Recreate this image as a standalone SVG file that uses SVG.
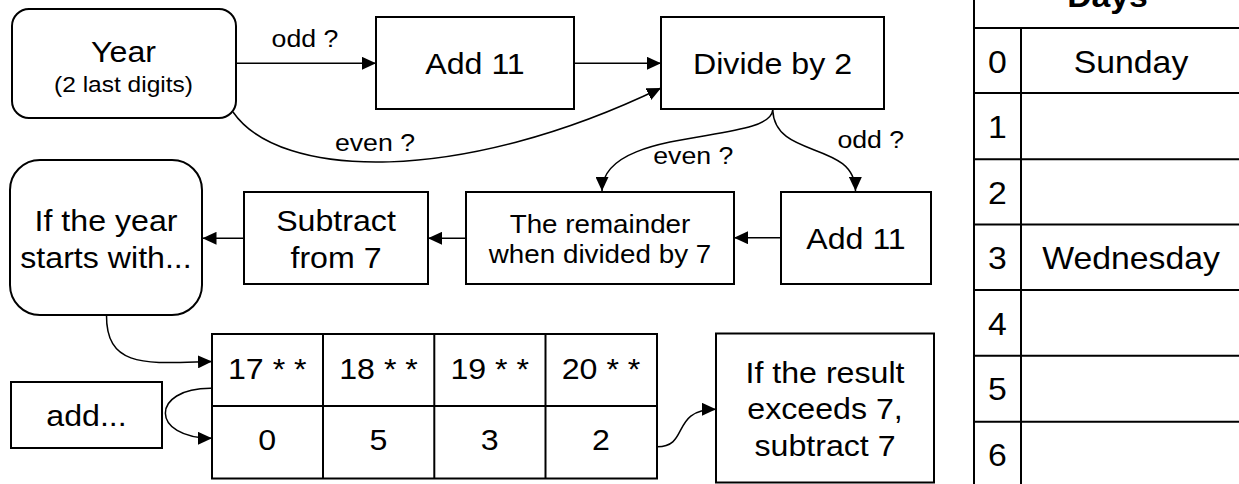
<svg xmlns="http://www.w3.org/2000/svg" width="1239" height="484" viewBox="0 0 1239 484">
<defs>
<style>
.box{fill:#fff;stroke:#000;stroke-width:2}
.edge{fill:none;stroke:#000;stroke-width:1.5}
.grid{fill:none;stroke:#000;stroke-width:2}
text{font-family:"Liberation Sans",Arial,sans-serif;fill:#000;text-anchor:middle}
.t{font-size:29.5px}
.s{font-size:22.5px}
.m{font-size:25.5px}
.l{font-size:24.5px}
.d{font-size:31px}
.b{font-size:31px;font-weight:bold}
</style>
<marker id="arr" markerUnits="userSpaceOnUse" markerWidth="14" markerHeight="13" refX="14" refY="6.5" orient="auto" viewBox="0 0 14 13">
<path d="M0,0 L14,6.5 L0,13 z" fill="#000"/>
</marker>
</defs>
<rect width="1239" height="484" fill="#fff"/>

<g id="connectors">
<path class="edge" marker-end="url(#arr)" d="M236,63.3 H376"/>
<path class="edge" marker-end="url(#arr)" d="M574,63.3 H661"/>
<path class="edge" marker-end="url(#arr)" d="M233,112 C280,180 460,185 661,88"/>
<path class="edge" marker-end="url(#arr)" d="M772.7,110 C770,145 602,125 602,191"/>
<path class="edge" marker-end="url(#arr)" d="M772.7,110 C775,160 855,140 855.5,191"/>
<path class="edge" marker-end="url(#arr)" d="M781,237.7 H734"/>
<path class="edge" marker-end="url(#arr)" d="M466,238.3 H428"/>
<path class="edge" marker-end="url(#arr)" d="M244,238.3 H202.5"/>
<path class="edge" marker-end="url(#arr)" d="M106.5,315 C106,370 150,363 212,361.5"/>
<path class="edge" marker-end="url(#arr)" d="M211,388.3 C150,388 150,438.3 212,438.3"/>
<path class="edge" marker-end="url(#arr)" d="M657,446.7 C690,447 670,409.3 716,409.3"/>
<text class="l" transform="matrix(1.09 0 0 1 305 47)">odd ?</text>
<text class="l" transform="matrix(1.09 0 0 1 375 150.5)">even ?</text>
<text class="l" transform="matrix(1.09 0 0 1 693.3 164.3)">even ?</text>
<text class="l" transform="matrix(1.09 0 0 1 870.8 148.3)">odd ?</text>
</g>

<g id="year">
<rect class="box" x="12" y="9" width="224" height="109" rx="17"/>
<text class="t" transform="matrix(1.09 0 0 1 123.5 61.7)">Year</text>
<text class="s" transform="matrix(1.09 0 0 1 123.5 91.7)">(2 last digits)</text>
</g>

<g id="add11-top">
<rect class="box" x="376" y="17" width="198" height="92"/>
<text class="t" transform="matrix(1.09 0 0 1 475 74)">Add 11</text>
</g>

<g id="divide">
<rect class="box" x="661" y="17" width="223" height="92"/>
<text class="t" transform="matrix(1.09 0 0 1 772.5 74.3)">Divide by 2</text>
</g>

<g id="add11-mid">
<rect class="box" x="781" y="192" width="150" height="92"/>
<text class="t" transform="matrix(1.09 0 0 1 856 249)">Add 11</text>
</g>

<g id="remainder">
<rect class="box" x="466" y="192" width="268" height="92"/>
<text class="m" transform="matrix(1.09 0 0 1 600 232.7)">The remainder</text>
<text class="m" transform="matrix(1.09 0 0 1 600 263.3)">when divided by 7</text>
</g>

<g id="subtract">
<rect class="box" x="244" y="192" width="184" height="92"/>
<text class="t" transform="matrix(1.09 0 0 1 336 231)">Subtract</text>
<text class="t" transform="matrix(1.09 0 0 1 336 267.7)">from 7</text>
</g>

<g id="starts-with">
<rect class="box" x="10" y="160" width="192" height="155" rx="30"/>
<text class="t" transform="matrix(1.09 0 0 1 106 231)">If the year</text>
<text class="t" transform="matrix(1.09 0 0 1 106 267.7)">starts with...</text>
</g>

<g id="century-table">
<rect class="box" x="212" y="334" width="445" height="144.5"/>
<path class="grid" d="M212,406 H657 M323,334 V478.5 M434.3,334 V478.5 M545.5,334 V478.5"/>
<text class="t" transform="matrix(1.09 0 0 1 267.3 379)">17 * *</text>
<text class="t" transform="matrix(1.09 0 0 1 378.5 379)">18 * *</text>
<text class="t" transform="matrix(1.09 0 0 1 489.7 379)">19 * *</text>
<text class="t" transform="matrix(1.09 0 0 1 601 379)">20 * *</text>
<text class="t" transform="matrix(1.09 0 0 1 267.3 450)">0</text>
<text class="t" transform="matrix(1.09 0 0 1 378.5 450)">5</text>
<text class="t" transform="matrix(1.09 0 0 1 489.7 450)">3</text>
<text class="t" transform="matrix(1.09 0 0 1 601 450)">2</text>
</g>

<g id="add">
<rect class="box" x="11" y="382" width="151" height="66"/>
<text class="t" transform="matrix(1.09 0 0 1 86.5 426)">add...</text>
</g>

<g id="result">
<rect class="box" x="716" y="333.5" width="218" height="149"/>
<text class="t" transform="matrix(1.09 0 0 1 825 383.3)">If the result</text>
<text class="t" transform="matrix(1.09 0 0 1 825 419.3)">exceeds 7,</text>
<text class="t" transform="matrix(1.09 0 0 1 825 456)">subtract 7</text>
</g>

<g id="days-table">
<path class="grid" d="M974,-2 V486 M1241,-2 V486 M1021,28 V486 M974,28 H1241 M974,93 H1241 M974,159.3 H1241 M974,224.5 H1241 M974,290 H1241 M974,355.7 H1241 M974,421.7 H1241"/>
<text class="b" transform="matrix(1.09 0 0 1 1107.5 7)">Days</text>
<text class="d" transform="matrix(1.09 0 0 1 997.5 72.5)">0</text>
<text class="d" transform="matrix(1.09 0 0 1 997.5 137.8)">1</text>
<text class="d" transform="matrix(1.09 0 0 1 997.5 203.6)">2</text>
<text class="d" transform="matrix(1.09 0 0 1 997.5 268.8)">3</text>
<text class="d" transform="matrix(1.09 0 0 1 997.5 334.5)">4</text>
<text class="d" transform="matrix(1.09 0 0 1 997.5 400.2)">5</text>
<text class="d" transform="matrix(1.09 0 0 1 997.5 466)">6</text>
<text class="d" transform="matrix(1.09 0 0 1 1131 72.5)">Sunday</text>
<text class="d" transform="matrix(1.09 0 0 1 1131 268.8)">Wednesday</text>
</g>
</svg>
